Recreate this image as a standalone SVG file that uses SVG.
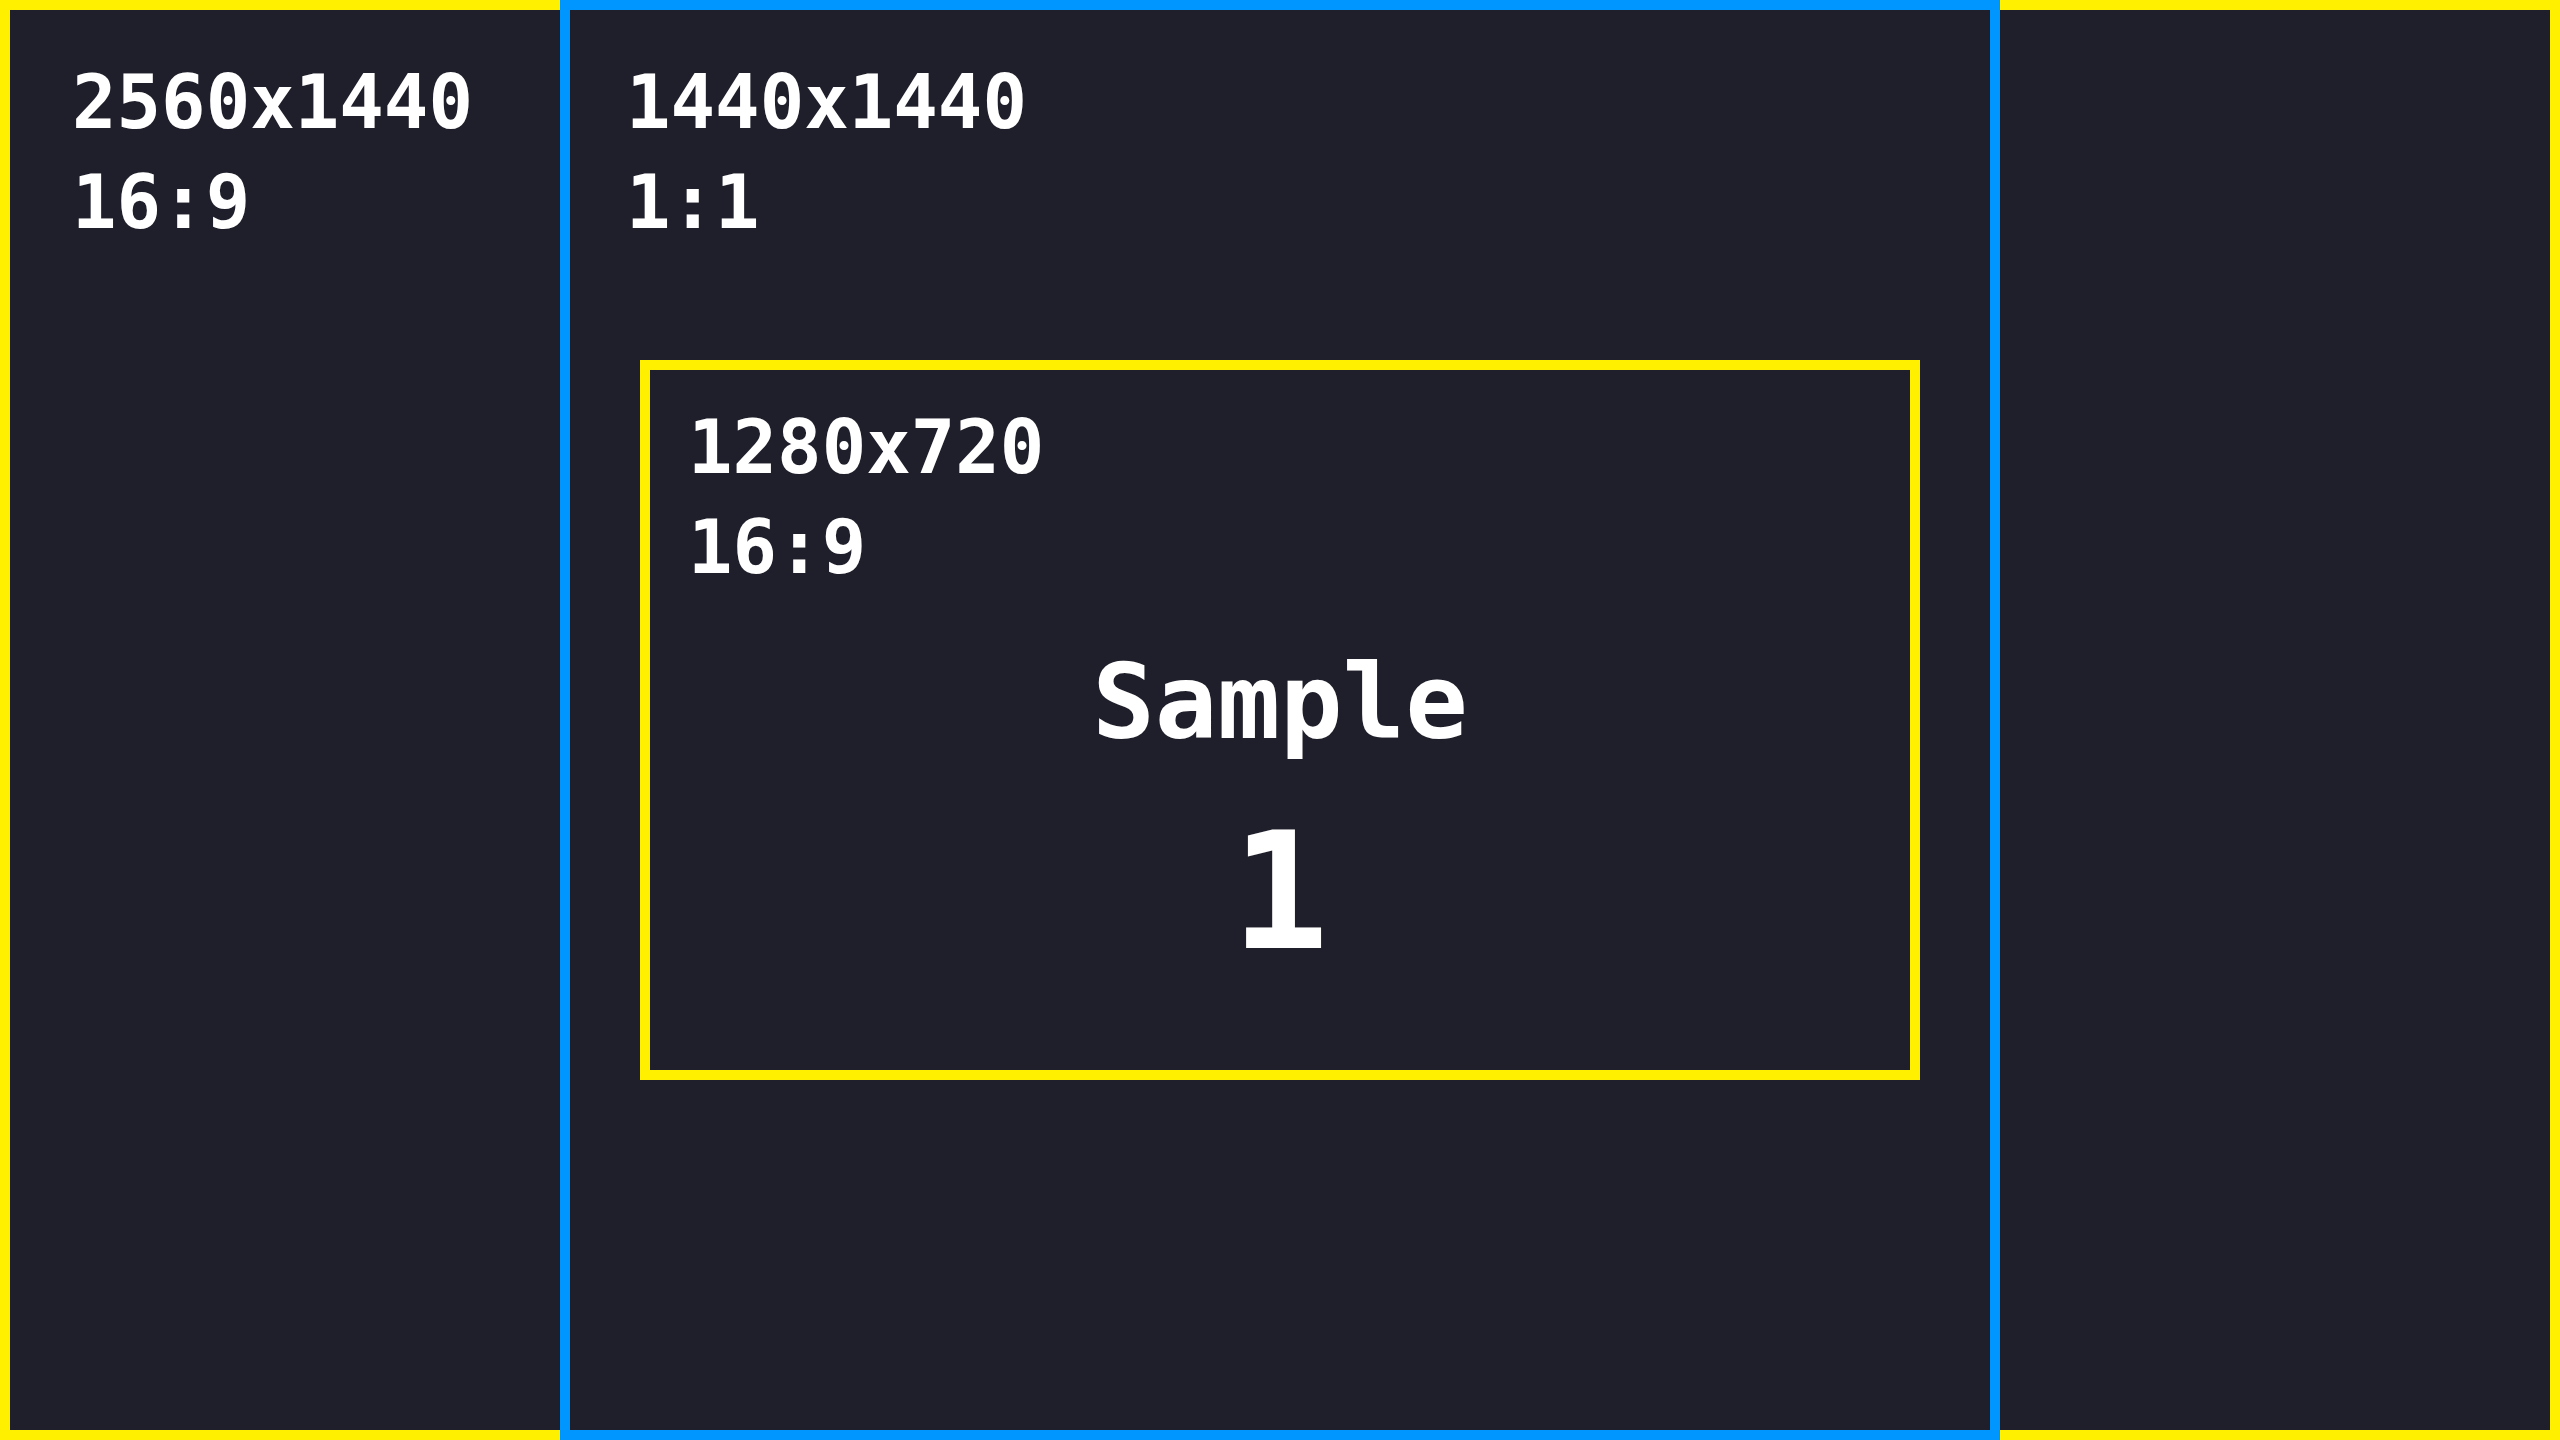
<svg xmlns="http://www.w3.org/2000/svg" width="2560" height="1440" viewBox="0 0 2560 1440">
  <style>
    .frame-y { fill: none; stroke: #FFF000; stroke-width: 10; }
    .frame-b { fill: none; stroke: #0096FF; stroke-width: 10; }
    .label { font-family: "DejaVu Sans Mono", "Liberation Mono", monospace; font-weight: bold; fill: #FFFFFF; }
    .small { font-size: 74px; }
  </style>
  <!-- background -->
  <rect x="0" y="0" width="2560" height="1440" fill="#1F1F2B"/>

  <!-- 2560x1440 full frame -->
  <g id="frame-2560x1440">
    <rect class="frame-y" x="5" y="5" width="2550" height="1430"/>
    <text class="label small" x="72" y="128">2560x1440</text>
    <text class="label small" x="72" y="228">16:9</text>
  </g>

  <!-- 1440x1440 square frame -->
  <g id="frame-1440x1440">
    <rect class="frame-b" x="565" y="5" width="1430" height="1430"/>
    <text class="label small" x="626" y="128">1440x1440</text>
    <text class="label small" x="626" y="228">1:1</text>
  </g>

  <!-- 1280x720 inner frame -->
  <g id="frame-1280x720">
    <rect class="frame-y" x="645" y="365" width="1270" height="710"/>
    <text class="label small" x="688" y="473">1280x720</text>
    <text class="label small" x="688" y="573">16:9</text>
    <text class="label" x="1280" y="738" font-size="104" text-anchor="middle">Sample</text>
    <text class="label" x="1280" y="948" font-size="162" text-anchor="middle">1</text>
  </g>
</svg>
